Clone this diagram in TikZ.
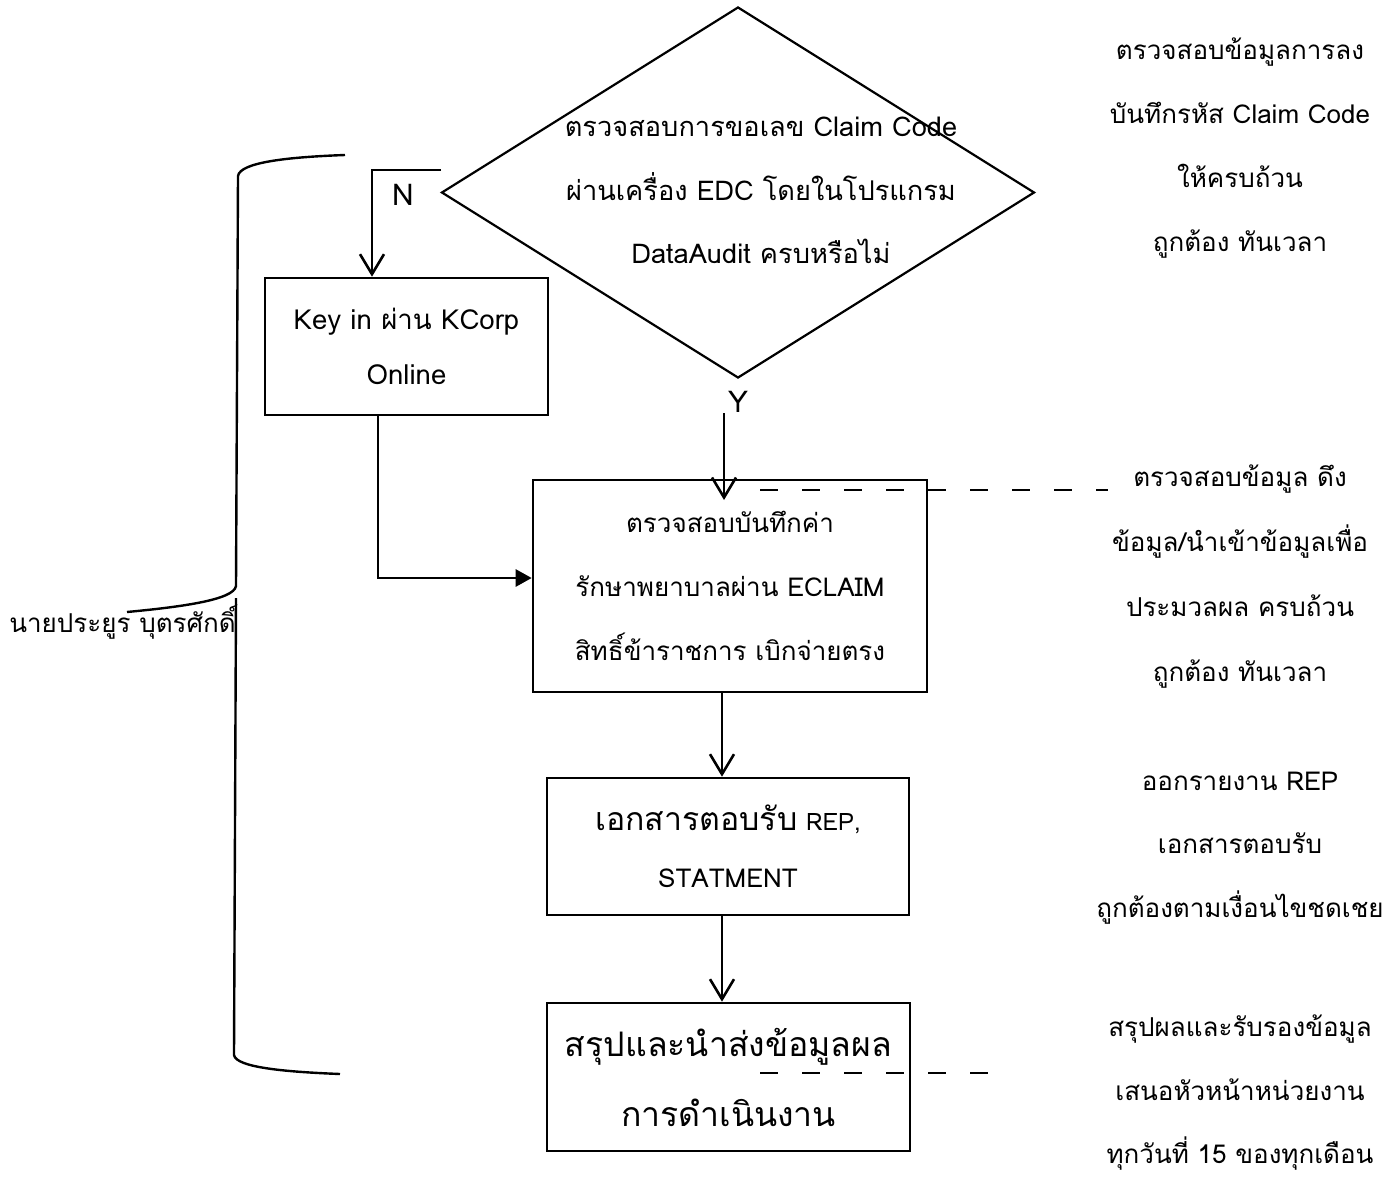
\documentclass[tikz,border=0pt]{standalone}
\usepackage{fontspec}
\setmainfont[Script=Thai]{Loma}
\usetikzlibrary{arrows.meta,shapes.geometric}
\begin{document}
\begin{tikzpicture}[x=0.5pt,y=-0.5pt,line width=1.3pt,
  box/.style={draw,rectangle,inner sep=0pt,align=center},
  openarrow/.style={-{Straight Barb[length=10pt,width=12pt,line width=1.3pt]}},
  fillarrow/.style={-{Triangle[length=8pt,width=8.5pt]}},
  txt/.style={align=center,inner sep=0pt},
  guide/.style={line width=0.8pt,dash pattern=on 9pt off 12pt}]
\useasboundingbox[fill=white] (0,0) rectangle (1396,1177);

% diamond
\node[draw,diamond,line width=1.1pt,inner sep=0pt,minimum width=296.5pt,minimum height=185.5pt] (dia) at (738,192.5) {};
\node[txt,font=\fontsize{13.6}{31.75}\selectfont] (diatext) at (761,190.5) {ตรวจสอบการขอเลข Claim Code\\ผ่านเครื่อง EDC โดยในโปรแกรม\\DataAudit ครบหรือไม่};

% boxes
\node[box,minimum width=141.5pt,minimum height=68.5pt,font=\fontsize{13.8}{27.5}\selectfont] (key) at (406.5,346.5) {Key in ผ่าน KCorp\\Online};
\node[box,minimum width=197pt,minimum height=106pt,font=\fontsize{13}{32}\selectfont] (eclaim) at (730,586) {ตรวจสอบบันทึกค่า\\รักษาพยาบาลผ่าน ECLAIM\\สิทธิ์ข้าราชการ เบิกจ่ายตรง};
\node[box,minimum width=181pt,minimum height=68.5pt,font=\fontsize{13}{28.5}\selectfont] (rep) at (728,846.5) {{\fontsize{16}{16}\selectfont เอกสารตอบรับ} {\fontsize{12}{12}\selectfont REP,}\\STATMENT};
\node[box,minimum width=181.5pt,minimum height=74pt,font=\fontsize{16.9}{35}\selectfont] (sum) at (728.5,1077) {สรุปและนำส่งข้อมูลผล\\การดำเนินงาน};

% labels
\node[txt,font=\fontsize{15}{15}\selectfont] (nlab) at (403,195) {N};
\node[txt,font=\fontsize{15}{15}\selectfont] (ylab) at (738,402) {Y};

% helper coordinates
\coordinate (nstart) at (441,170);
\coordinate (nx) at (372,0);
\coordinate (ystart) at (724,413);
\coordinate (yend) at (724,500);
\coordinate (kx) at (378,0);
\coordinate (ky) at (0,578);
\coordinate (cx) at (722,0);

% connectors
\draw[openarrow] (nstart) -- (nx |- nstart) -- (key.north -| nx);
\draw[openarrow] (ystart) -- (yend);
\draw[fillarrow] (key.south -| kx) |- (eclaim.west |- ky);
\draw[openarrow] (eclaim.south -| cx) -- (rep.north -| cx);
\draw[openarrow] (rep.south -| cx) -- (sum.north -| cx);

% dashed guides
\draw[guide] (760,490) -- (1108,490);
\draw[guide] (760,1073) -- (1000,1073);

% brace
\draw[line width=1.2pt] (345,155) .. controls (290,157) and (240,162) .. (238,176) -- (236,586) .. controls (234,600) and (180,607) .. (127,612);
\draw[line width=1.2pt] (236,598) -- (234,1055) .. controls (236,1068) and (290,1072) .. (340,1074);
\node[txt,font=\fontsize{13}{13}\selectfont,anchor=west] (person) at (8,622) {นายประยูร บุตรศักดิ์};

% right column
\node[txt,font=\fontsize{13}{32}\selectfont] (r1) at (1240,148) {ตรวจสอบข้อมูลการลง\\บันทึกรหัส Claim Code\\ให้ครบถ้วน\\ถูกต้อง ทันเวลา};
\node[txt,font=\fontsize{13}{32.5}\selectfont] (r2) at (1240,577) {ตรวจสอบข้อมูล ดึง\\ข้อมูล/นำเข้าข้อมูลเพื่อ\\ประมวลผล ครบถ้วน\\ถูกต้อง ทันเวลา};
\node[txt,font=\fontsize{13}{31.75}\selectfont] (r3) at (1240,848) {ออกรายงาน REP\\เอกสารตอบรับ\\ถูกต้องตามเงื่อนไขชดเชย};
\node[txt,font=\fontsize{13}{31.75}\selectfont] (r4) at (1240,1093) {สรุปผลและรับรองข้อมูล\\เสนอหัวหน้าหน่วยงาน\\ทุกวันที่ 15 ของทุกเดือน};
\end{tikzpicture}
\end{document}
